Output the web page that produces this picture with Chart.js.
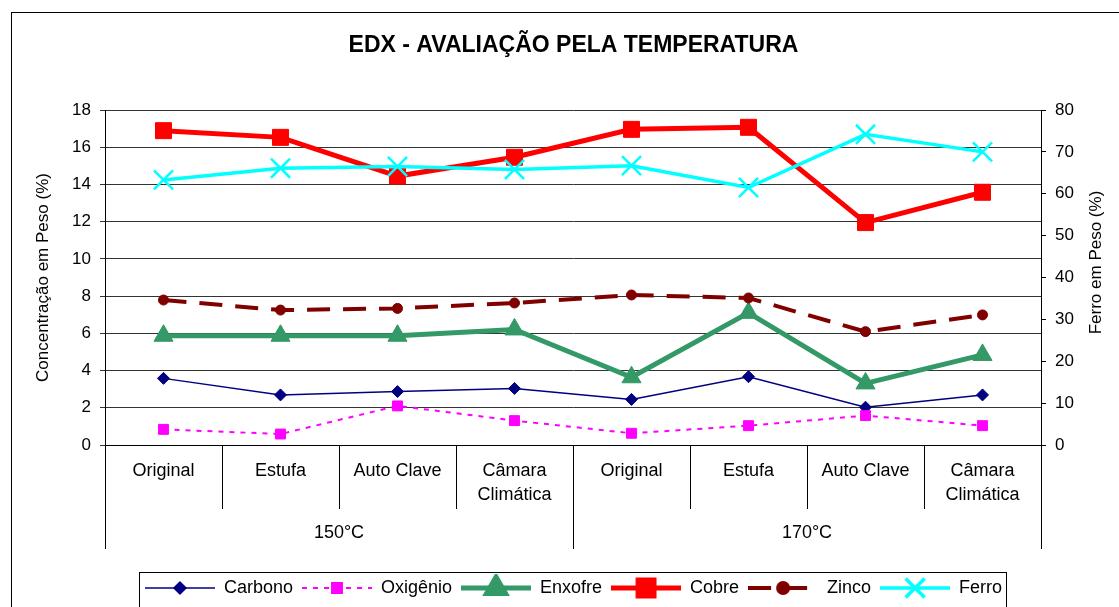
<!DOCTYPE html>
<html>
<head>
<meta charset="utf-8">
<script src="https://cdn.jsdelivr.net/npm/chart.js@4.4.1/dist/chart.umd.min.js"></script>
<style>
  body { margin: 0; background: #fff; }
  canvas { display: block; }
</style>
</head>
<body>
<canvas id="edx" width="1119" height="607"></canvas>
<script>
// categorias (amostras) e grupos de temperatura
var categorias = ['Original', 'Estufa', 'Auto Clave', ['Câmara', 'Climática'],
                  'Original', 'Estufa', 'Auto Clave', ['Câmara', 'Climática']];
var temperaturas = ['150°C', '170°C'];

// concentração em peso (%) - eixo esquerdo
var carbono  = [3.58, 2.69, 2.87, 3.04, 2.45, 3.67, 2.03, 2.69];
var oxigenio = [0.84, 0.59, 2.10, 1.31, 0.63, 1.04, 1.58, 1.04];
var enxofre  = [5.87, 5.87, 5.87, 6.21, 3.64, 7.10, 3.31, 4.84];
var cobre    = [16.89, 16.53, 14.45, 15.46, 16.96, 17.07, 11.95, 13.58];
var zinco    = [7.79, 7.25, 7.34, 7.63, 8.06, 7.90, 6.09, 6.99];
// ferro em peso (%) - eixo direito
var ferro    = [63.3, 66.1, 66.5, 65.8, 66.7, 61.5, 74.2, 70.0];

// escalas
var escalaEsq = { min: 0, max: 18, passo: 2 };
var escalaDir = { min: 0, max: 80, passo: 10 };

Chart.defaults.font.family = '"Liberation Sans", Arial, sans-serif';
Chart.defaults.color = '#000';

function serie(label, data, cor, largura, estilo, raio, extra) {
  var ds = {
    label: label,
    data: data,
    borderColor: cor,
    backgroundColor: cor,
    borderWidth: largura,
    pointStyle: estilo,
    pointRadius: raio,
    pointHoverRadius: raio,
    pointBackgroundColor: cor,
    pointBorderColor: cor,
    pointBorderWidth: 1,
    tension: 0,
    fill: false
  };
  for (var k in extra) ds[k] = extra[k];
  return ds;
}

var series = [
  serie('Carbono', carbono, '#000080', 1.5, 'rectRot', 6, { order: 5 }),
  serie('Oxigênio', oxigenio, '#FF00FF', 2, 'rect', 7, { borderDash: [5, 6], order: 4 }),
  serie('Enxofre', enxofre, '#339966', 5, 'triangle', 11, { order: 3 }),
  serie('Cobre', cobre, '#FF0000', 5, 'rect', 11.3, { order: 2 }),
  serie('Zinco', zinco, '#800000', 4, 'circle', 5, { borderDash: [23, 13], order: 1 }),
  serie('Ferro', ferro, '#00FFFF', 3.5, 'crossRot', 13.5, { pointBorderWidth: 2.5, yAxisID: 'y1', order: 0 })
];

// amostra de linha + marcador para a legenda
function amostra(ds) {
  var cv = document.createElement('canvas');
  cv.width = 70; cv.height = 28;
  var c = cv.getContext('2d');
  c.strokeStyle = ds.borderColor;
  c.lineWidth = ds.borderWidth;
  c.setLineDash(ds.borderDash || []);
  c.beginPath(); c.moveTo(0, 14); c.lineTo(70, 14); c.stroke();
  c.setLineDash([]);
  c.fillStyle = ds.pointBackgroundColor;
  c.strokeStyle = ds.pointBorderColor;
  Chart.helpers.drawPoint(c, { pointStyle: ds.pointStyle, radius: ds.pointRadius, borderWidth: ds.pointBorderWidth, rotation: 0 }, 35, 14);
  return cv;
}

var moldura = {
  id: 'moldura',
  beforeDraw: function (chart) {
    var c = chart.ctx;
    c.save();
    c.fillStyle = '#fff';
    c.fillRect(0, 0, chart.width, chart.height);
    c.strokeStyle = '#000';
    c.lineWidth = 1;
    c.strokeRect(11.5, 12.5, chart.width + 10, chart.height + 10);
    c.restore();
  },
  afterDraw: function (chart) {
    var c = chart.ctx, xs = chart.scales.x, n = categorias.length;
    var porGrupo = n / temperaturas.length;
    c.save();
    c.strokeStyle = '#000';
    c.lineWidth = 1;
    // divisórias das categorias e dos grupos
    for (var i = 0; i <= n; i++) {
      var px;
      if (i === 0) px = xs.left;
      else if (i === n) px = xs.right;
      else px = (xs.getPixelForValue(i - 1) + xs.getPixelForValue(i)) / 2;
      px = Math.round(px) + 0.5;
      var fim = (i % porGrupo === 0) ? xs.bottom + 40 : xs.bottom;
      c.beginPath(); c.moveTo(px, xs.top); c.lineTo(px, fim); c.stroke();
    }
    // caixa da legenda
    var caixas = chart.legend.legendHitBoxes;
    if (caixas && caixas.length) {
      var esq = caixas[0].left - 6;
      var dir = caixas[caixas.length - 1].left + caixas[caixas.length - 1].width + 4;
      var topo = caixas[0].top - 7;
      c.strokeStyle = '#000';
      c.strokeRect(Math.round(esq) + 0.5, Math.round(topo) + 0.5, Math.round(dir - esq), chart.height);
    }
    // título do eixo direito
    var y1 = chart.scales.y1;
    c.translate(y1.right - 23, (y1.top + y1.bottom) / 2 - 15);
    c.rotate(-Math.PI / 2);
    c.font = '17px "Liberation Sans", Arial, sans-serif';
    c.textAlign = 'center';
    c.textBaseline = 'middle';
    c.fillStyle = '#000';
    c.fillText('Ferro em Peso (%)', 0, 0);
    c.restore();
  }
};

new Chart(document.getElementById('edx'), {
  type: 'line',
  data: { labels: categorias, datasets: series },
  options: {
    responsive: false,
    animation: false,
    layout: { padding: { left: 28, right: 0, top: 12, bottom: 0 } },
    plugins: {
      title: {
        display: true,
        text: 'EDX - AVALIAÇÃO PELA TEMPERATURA',
        color: '#000',
        font: { size: 23, weight: 'bold' },
        padding: { top: 20, bottom: 50.4 }
      },
      legend: {
        position: 'bottom',
        labels: {
          usePointStyle: true,
          pointStyleWidth: 70,
          padding: 9,
          color: '#000',
          font: { size: 18 },
          generateLabels: function (chart) {
            return chart.data.datasets.map(function (ds, i) {
              return {
                text: ds.label,
                pointStyle: amostra(ds),
                datasetIndex: i,
                hidden: false,
                fontColor: '#000',
                fillStyle: 'transparent',
                strokeStyle: 'transparent',
                lineWidth: 0
              };
            });
          }
        }
      },
      tooltip: { enabled: false }
    },
    scales: {
      x: {
        type: 'category',
        offset: true,
        grid: { display: false },
        border: { display: true, color: '#000', width: 1 },
        ticks: { padding: 6, autoSkip: false, maxRotation: 0, font: { size: 18, lineHeight: 1.333 } },
        afterFit: function (s) { s.height = 64; }
      },
      x2: {
        type: 'category',
        labels: temperaturas,
        offset: true,
        position: 'bottom',
        grid: { display: false },
        border: { display: false },
        ticks: { padding: 4, font: { size: 18, lineHeight: 1.333 } },
        afterFit: function (s) { s.height = 61; }
      },
      y: {
        position: 'left',
        min: escalaEsq.min,
        max: escalaEsq.max,
        ticks: { stepSize: escalaEsq.passo, padding: 9, font: { size: 17 } },
        grid: { color: '#333', tickLength: 5 },
        border: { color: '#000' },
        title: { display: true, text: 'Concentração em Peso (%)', font: { size: 17 }, padding: { top: 5, bottom: 0 } },
        afterFit: function (s) { s.width = 77; }
      },
      y1: {
        position: 'right',
        min: escalaDir.min,
        max: escalaDir.max,
        ticks: { stepSize: escalaDir.passo, padding: 9, font: { size: 17 } },
        grid: { drawOnChartArea: false, color: '#000', tickLength: 5 },
        border: { color: '#000' },
        afterFit: function (s) { s.width = 78; }
      }
    }
  },
  plugins: [moldura]
});
</script>
</body>
</html>
